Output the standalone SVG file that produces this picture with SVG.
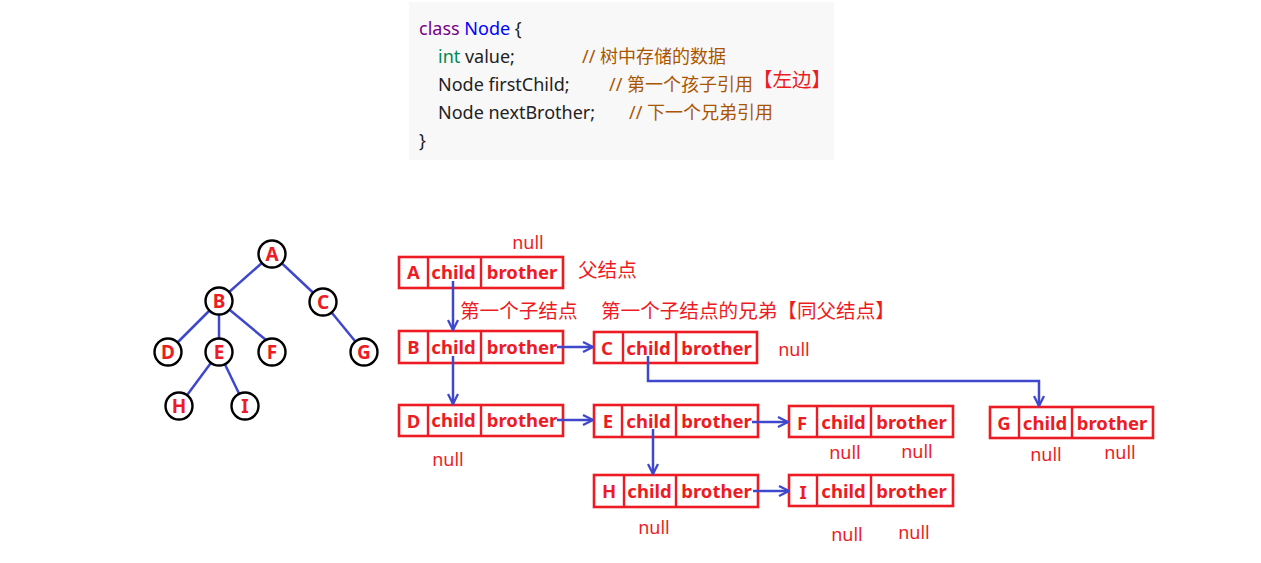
<svg xmlns="http://www.w3.org/2000/svg" width="1261" height="563" viewBox="0 0 1261 563">
<defs>
<style>
.code{font-family:"Noto Sans","Noto Sans CJK SC",sans-serif;font-size:18px;fill:#222}
.kw{fill:#770088}.ty{fill:#0000ff}.it{fill:#008855}.cm{fill:#aa5500}
.rec{fill:#fff;stroke:#ed1c24;stroke-width:2.6}
.div{stroke:#ed1c24;stroke-width:2.4}
.rt{font-family:"Noto Sans",sans-serif;font-size:18.5px;font-weight:bold;fill:#ed1c24;text-anchor:middle}
.lbl{font-family:"Noto Sans CJK SC",sans-serif;font-size:19.5px;fill:#ed1c24}
.nl{font-family:"Noto Sans",sans-serif;font-size:18px;fill:#ed1c24;text-anchor:middle}
.cjk{font-family:"Noto Sans CJK SC",sans-serif;font-size:19.6px;fill:#ed1c24}
.edge{stroke:#3f48cc;stroke-width:2.5;fill:none}
.tc{fill:#fff;stroke:#000;stroke-width:2.4}
.tl{font-family:"Noto Sans",sans-serif;font-size:19px;font-weight:bold;fill:#ed1c24;text-anchor:middle}
.conn{stroke:#3f48cc;stroke-width:2.5;fill:none;marker-end:url(#arr)}
</style>
<marker id="arr" viewBox="0 0 12 12" refX="11" refY="6" markerWidth="12" markerHeight="12" markerUnits="userSpaceOnUse" orient="auto">
<path d="M1,1 L11,6 L1,11" fill="none" stroke="#3f48cc" stroke-width="2.3"/>
</marker>
</defs>

<g id="code">
<rect x="409" y="2" width="425" height="158" fill="#f8f8f8"/>
<text class="code" x="419" y="35"><tspan class="kw">class</tspan> <tspan class="ty">Node</tspan> {</text>
<text class="code" x="438" y="63"><tspan class="it">int</tspan> value;</text>
<text class="code cm" x="582" y="63">// 树中存储的数据</text>
<text class="code" x="438" y="91">Node firstChild;</text>
<text class="code cm" x="609" y="91">// 第一个孩子引用</text>
<text class="lbl" x="753" y="87">【左边】</text>
<text class="code" x="438" y="119">Node nextBrother;</text>
<text class="code cm" x="629" y="119">// 下一个兄弟引用</text>
<text class="code" x="419" y="147">}</text>
</g>

<g id="tree">
<g id="tree-edges">
<line class="edge" x1="272" y1="254" x2="219" y2="301"/>
<line class="edge" x1="272" y1="254" x2="323" y2="302"/>
<line class="edge" x1="219" y1="301" x2="168" y2="352"/>
<line class="edge" x1="219" y1="301" x2="219" y2="352"/>
<line class="edge" x1="219" y1="301" x2="266" y2="340"/>
<line class="edge" x1="323" y1="302" x2="364" y2="352"/>
<line class="edge" x1="219" y1="352" x2="179" y2="406"/>
<line class="edge" x1="219" y1="352" x2="245" y2="406"/>
</g>
<g id="t-A"><circle class="tc" cx="272" cy="254" r="13.5"/><text class="tl" x="272" y="261">A</text></g>
<g id="t-B"><circle class="tc" cx="219" cy="301" r="13.5"/><text class="tl" x="219" y="308">B</text></g>
<g id="t-C"><circle class="tc" cx="323" cy="302" r="13.5"/><text class="tl" x="323" y="309">C</text></g>
<g id="t-D"><circle class="tc" cx="168" cy="352" r="13.5"/><text class="tl" x="168" y="359">D</text></g>
<g id="t-E"><circle class="tc" cx="219" cy="352" r="13.5"/><text class="tl" x="219" y="359">E</text></g>
<g id="t-F"><circle class="tc" cx="272" cy="352" r="13.5"/><text class="tl" x="272" y="359">F</text></g>
<g id="t-G"><circle class="tc" cx="364" cy="352" r="13.5"/><text class="tl" x="364" y="359">G</text></g>
<g id="t-H"><circle class="tc" cx="179" cy="406" r="13.5"/><text class="tl" x="179" y="413">H</text></g>
<g id="t-I"><circle class="tc" cx="245" cy="406" r="13.5"/><text class="tl" x="245" y="413">I</text></g>
</g>

<g id="rec-A">
<rect class="rec" x="399" y="257" width="164" height="31"/>
<line class="div" x1="428" y1="257" x2="428" y2="288"/><line class="div" x1="481" y1="257" x2="481" y2="288"/>
<text class="rt" x="413.5" y="279">A</text><text class="rt" x="453.5" y="279">child</text><text class="rt" x="522" y="279">brother</text>
</g>
<g id="rec-B">
<rect class="rec" x="399" y="331" width="164" height="32"/>
<line class="div" x1="428" y1="331" x2="428" y2="363"/><line class="div" x1="481" y1="331" x2="481" y2="363"/>
<text class="rt" x="413.5" y="354">B</text><text class="rt" x="453.5" y="354">child</text><text class="rt" x="522" y="354">brother</text>
</g>
<g id="rec-C">
<rect class="rec" x="594" y="332" width="163" height="31"/>
<line class="div" x1="623" y1="332" x2="623" y2="363"/><line class="div" x1="676" y1="332" x2="676" y2="363"/>
<text class="rt" x="607" y="355">C</text><text class="rt" x="648.5" y="355">child</text><text class="rt" x="716.5" y="355">brother</text>
</g>
<g id="rec-D">
<rect class="rec" x="399" y="405" width="164" height="31"/>
<line class="div" x1="428" y1="405" x2="428" y2="436"/><line class="div" x1="481" y1="405" x2="481" y2="436"/>
<text class="rt" x="413.5" y="428">D</text><text class="rt" x="453.5" y="427">child</text><text class="rt" x="522" y="427">brother</text>
</g>
<g id="rec-E">
<rect class="rec" x="594" y="405" width="164" height="32"/>
<line class="div" x1="622" y1="405" x2="622" y2="437"/><line class="div" x1="676" y1="405" x2="676" y2="437"/>
<text class="rt" x="608" y="428">E</text><text class="rt" x="648.5" y="428">child</text><text class="rt" x="716.5" y="428">brother</text>
</g>
<g id="rec-F">
<rect class="rec" x="789" y="406" width="164" height="31"/>
<line class="div" x1="817" y1="406" x2="817" y2="437"/><line class="div" x1="871" y1="406" x2="871" y2="437"/>
<text class="rt" x="802" y="430">F</text><text class="rt" x="843.5" y="429">child</text><text class="rt" x="911.5" y="429">brother</text>
</g>
<g id="rec-G">
<rect class="rec" x="990" y="407" width="163" height="31"/>
<line class="div" x1="1019" y1="407" x2="1019" y2="438"/><line class="div" x1="1072" y1="407" x2="1072" y2="438"/>
<text class="rt" x="1004" y="430">G</text><text class="rt" x="1045" y="430">child</text><text class="rt" x="1112" y="430">brother</text>
</g>
<g id="rec-H">
<rect class="rec" x="594" y="475" width="164" height="32"/>
<line class="div" x1="624" y1="475" x2="624" y2="507"/><line class="div" x1="676" y1="475" x2="676" y2="507"/>
<text class="rt" x="609" y="498">H</text><text class="rt" x="649.5" y="498">child</text><text class="rt" x="716.5" y="498">brother</text>
</g>
<g id="rec-I">
<rect class="rec" x="789" y="475" width="164" height="31"/>
<line class="div" x1="817" y1="475" x2="817" y2="506"/><line class="div" x1="871" y1="475" x2="871" y2="506"/>
<text class="rt" x="803" y="499">I</text><text class="rt" x="843.5" y="498">child</text><text class="rt" x="911.5" y="498">brother</text>
</g>

<g id="connectors">
<path class="conn" d="M453,281 V330"/>
<path class="conn" d="M557,347 H593"/>
<path class="conn" d="M453,356 V404"/>
<path class="conn" d="M648,356 V381 H1039 V406"/>
<path class="conn" d="M557,420 H593"/>
<path class="conn" d="M752,422 H788"/>
<path class="conn" d="M653,429 V474"/>
<path class="conn" d="M753,491 H789"/>
</g>

<g id="labels">
<text class="nl" x="528" y="249">null</text>
<text class="cjk" x="578" y="277">父结点</text>
<text class="cjk" x="460" y="318">第一个子结点</text>
<text class="cjk" x="601" y="318">第一个子结点的兄弟【同父结点】</text>
<text class="nl" x="794" y="356">null</text>
<text class="nl" x="448" y="466">null</text>
<text class="nl" x="845" y="459">null</text>
<text class="nl" x="917" y="458">null</text>
<text class="nl" x="1046" y="461">null</text>
<text class="nl" x="1120" y="459">null</text>
<text class="nl" x="654" y="534">null</text>
<text class="nl" x="847" y="541">null</text>
<text class="nl" x="914" y="539">null</text>
</g>
</svg>
